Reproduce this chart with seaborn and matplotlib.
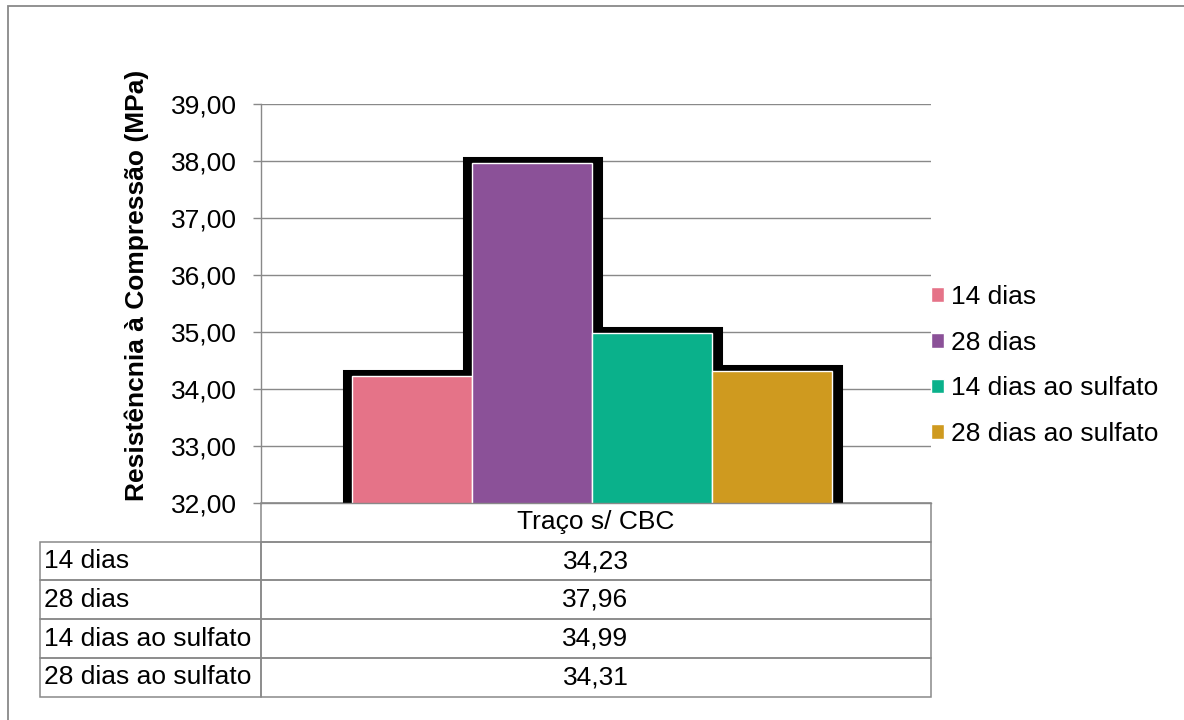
import matplotlib
matplotlib.use("Agg")
import matplotlib.pyplot as plt
import seaborn as sns
import pandas as pd
from matplotlib.table import Table
from matplotlib.patches import Rectangle

# ---- data ----
category = "Traço s/ CBC"
series = ["14 dias", "28 dias", "14 dias ao sulfato", "28 dias ao sulfato"]
values = [34.23, 37.96, 34.99, 34.31]
value_labels = ["34,23", "37,96", "34,99", "34,31"]
colors = ["#E57388", "#8B5198", "#0AB18B", "#CF9A1F"]
yticks = [32, 33, 34, 35, 36, 37, 38, 39]
ytick_labels = ["32,00", "33,00", "34,00", "35,00", "36,00", "37,00", "38,00", "39,00"]
ylabel = "Resistêncnia à Compressão (MPa)"

df = pd.DataFrame({"cat": [category] * len(series), "serie": series, "val": values})

sns.set_theme(style="white")
plt.rcParams["font.family"] = ["Liberation Sans", "DejaVu Sans"]
plt.rcParams["text.color"] = "black"
FS = 19
GRAY = "#898989"
W, H = 1184, 720

fig = plt.figure(figsize=(W / 100, H / 100), dpi=100)
ax = fig.add_axes([260.5 / W, 1 - 503 / H, 670 / W, 399 / H])

# black outline layer
sns.barplot(data=df, x="cat", y="val", hue="serie", palette=colors, width=0.716,
            saturation=1, edgecolor="black", linewidth=9.4, errorbar=None,
            legend=False, ax=ax, zorder=2)
n_black = len(ax.patches)
dx = 3.5 / 670
for p in ax.patches[:n_black]:
    p.set_facecolor("black")
    p.set_x(p.get_x() - dx)
    p.set_width(p.get_width() + 2 * dx)

# coloured bars on top
sns.barplot(data=df, x="cat", y="val", hue="serie", palette=colors, width=0.716,
            saturation=1, edgecolor="white", linewidth=1.0, errorbar=None,
            ax=ax, zorder=3)

ax.set_xlim(-0.495, 0.505)
ax.set_ylim(32, 39)
ax.set_yticks(yticks)
ax.set_yticklabels(ytick_labels, fontsize=FS, color="black")
ax.set_xticks([])
ax.set_xlabel("")
ax.yaxis.grid(True, color=GRAY, linewidth=1.0)
ax.set_axisbelow(True)
ax.tick_params(axis="y", left=True, length=5.8, width=1.0, color=GRAY, pad=11.2)
for s in ["top", "right"]:
    ax.spines[s].set_visible(False)
for s in ["left", "bottom"]:
    ax.spines[s].set_color(GRAY)
    ax.spines[s].set_linewidth(1.0)
    ax.spines[s].set_zorder(4)

ax.set_ylabel(ylabel, fontsize=FS, fontweight="bold", color="black")
ax.yaxis.set_label_coords(-0.166, 0.546)

# legend
sns.move_legend(ax, "center left", bbox_to_anchor=(931 / W, 1 - 365.5 / H),
                bbox_transform=fig.transFigure, frameon=False, title=None,
                fontsize=FS, handlelength=0.48, handleheight=0.48,
                handletextpad=0.27, labelspacing=0.82, borderpad=0,
                borderaxespad=0, labelcolor="black")

# data table below the axis
x0 = (40 - 260.5) / 670
tb = Table(ax, bbox=[x0, (503 - 696.7) / 399, 1 - x0, (696.7 - 503) / 399])
cw = [220.5, 670]
hdr0 = tb.add_cell(0, 0, cw[0], 1, text="")
hdr0.visible_edges = "open"
tb.add_cell(0, 1, cw[1], 1, text=category, loc="center")
for i, (s, v) in enumerate(zip(series, value_labels), start=1):
    c0 = tb.add_cell(i, 0, cw[0], 1, text=s, loc="left")
    c0.PAD = 0.02
    tb.add_cell(i, 1, cw[1], 1, text=v, loc="center")
tb.auto_set_font_size(False)
tb.set_fontsize(FS)
for (r, c), cell in tb.get_celld().items():
    cell.set_edgecolor(GRAY)
    cell.set_linewidth(1.1)
    cell.set_facecolor("none")
    cell.get_text().set_color("black")
ax.add_table(tb)

# outer chart border (top and left visible)
fig.add_artist(Rectangle((7.5 / W, -0.1), 1.2, 1.1 - 6 / H, transform=fig.transFigure,
                         fill=False, edgecolor=GRAY, linewidth=1.3))

fig.savefig("out.png", dpi=100, facecolor="white")
